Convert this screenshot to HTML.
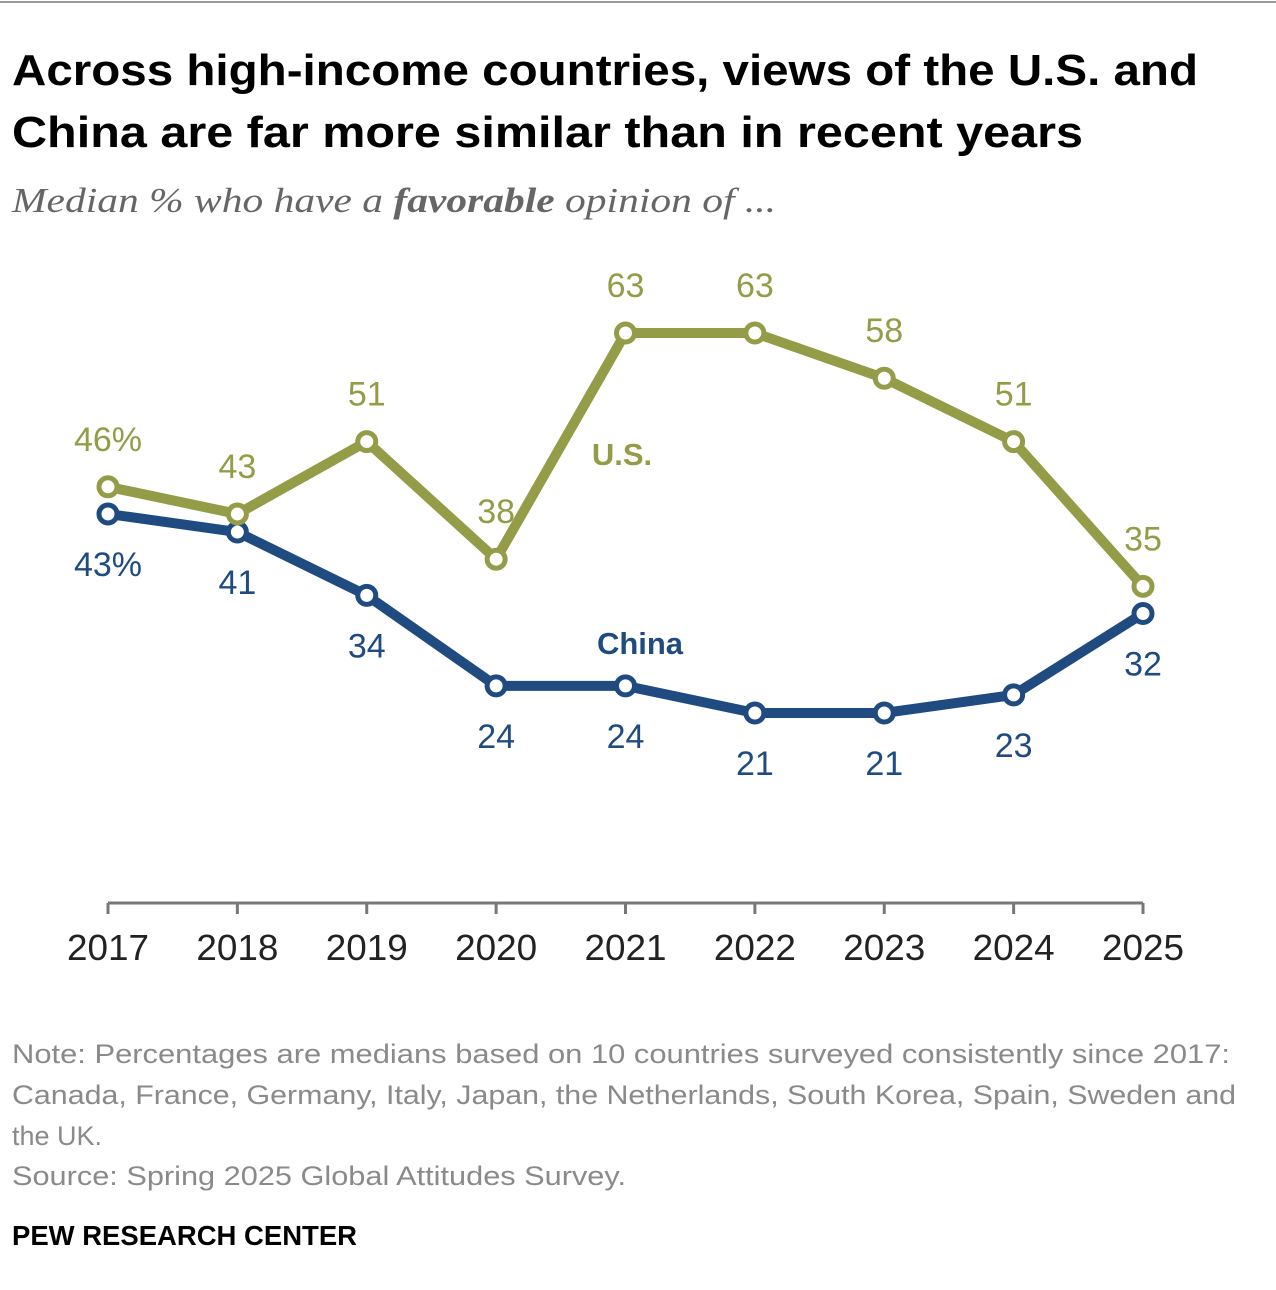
<!DOCTYPE html>
<html><head><meta charset="utf-8"><style>
html,body{margin:0;padding:0;background:#fff;}
svg{display:block;}
</style></head><body>
<svg id="chart" width="1276" height="1290" viewBox="0 0 1276 1290" xmlns="http://www.w3.org/2000/svg">
<line x1="0" y1="2" x2="1276" y2="2" stroke="#999" stroke-width="2"/>
<g font-family="Liberation Sans, sans-serif" font-weight="bold" font-size="44" fill="#000">
<text x="12" y="85" textLength="1186" lengthAdjust="spacingAndGlyphs">Across high-income countries, views of the U.S. and</text>
<text x="12" y="147" textLength="1071" lengthAdjust="spacingAndGlyphs">China are far more similar than in recent years</text>
</g>
<text x="12" y="212" font-family="Liberation Serif, serif" font-style="italic" font-size="35" fill="#666" textLength="764" lengthAdjust="spacingAndGlyphs">Median % who have a <tspan font-weight="bold">favorable</tspan> opinion of ...</text>
<g id="axis"></g>
<g id="series"></g>
<g font-family="Liberation Sans, sans-serif" font-size="27" fill="#8a8a8a">
<text x="12" y="1063" textLength="1218" lengthAdjust="spacingAndGlyphs">Note: Percentages are medians based on 10 countries surveyed consistently since 2017:</text>
<text x="12" y="1104" textLength="1224" lengthAdjust="spacingAndGlyphs">Canada, France, Germany, Italy, Japan, the Netherlands, South Korea, Spain, Sweden and</text>
<text x="12" y="1145">the UK.</text>
<text x="12" y="1185" textLength="614" lengthAdjust="spacingAndGlyphs">Source: Spring 2025 Global Attitudes Survey.</text>
</g>
<text x="12" y="1245" font-family="Liberation Sans, sans-serif" font-weight="bold" font-size="28" fill="#000" textLength="345" lengthAdjust="spacingAndGlyphs">PEW RESEARCH CENTER</text>
</svg>
<script>
const years = ['2017','2018','2019','2020','2021','2022','2023','2024','2025'];
const usValues = [46,43,51,38,63,63,58,51,35];
const chinaValues = [43,41,34,24,24,21,21,23,32];
const usLabels = ['46%','43','51','38','63','63','58','51','35'];
const chinaLabels = ['43%','41','34','24','24','21','21','23','32'];

const NS='http://www.w3.org/2000/svg';
const x = i => 108 + i*(1143-108)/(years.length-1);
const y = v => 713 - (v-21)*(380/42);
function mk(tag, attrs, parent){const e=document.createElementNS(NS,tag);for(const k in attrs)e.setAttribute(k,attrs[k]);parent.appendChild(e);return e;}

const axis=document.getElementById('axis');
const base=mk('line',{x1:x(0),x2:x(years.length-1),y1:903,y2:903,stroke:'#777','stroke-width':3},axis);


years.forEach((yr,i)=>{
  const t=mk('line',{x1:x(i),x2:x(i),y1:903,y2:914,stroke:'#777','stroke-width':3},axis);
  
  
  const l=mk('text',{x:x(i),y:960,'text-anchor':'middle','font-family':'Liberation Sans, sans-serif','font-size':36,fill:'#222',textLength:82,lengthAdjust:'spacingAndGlyphs'},axis);
  l.textContent=yr;
  
  
});

const series=document.getElementById('series');
function draw(vals,labels,color,name,off){
  const g=mk('g',{},series);
  
  
  const p=mk('polyline',{points:vals.map((v,i)=>x(i)+','+y(v)).join(' '),fill:'none',stroke:color,'stroke-width':10,'stroke-linejoin':'round'},g);
  
  
  vals.forEach((v,i)=>{
    const c=mk('circle',{cx:x(i),cy:y(v),r:9,fill:'#fff',stroke:color,'stroke-width':5},g);
    
    
    const t=mk('text',{x:x(i),y:y(v)+off,'text-anchor':'middle','dominant-baseline':'central','font-family':'Liberation Sans, sans-serif','font-size':34,fill:color},g);
    t.textContent=labels[i];
    
    
  });
}
draw(chinaValues,chinaLabels,'#1f4b80','china',51);
draw(usValues,usLabels,'#949c48','us',-47);

const us=mk('text',{x:622,y:465,'text-anchor':'middle','font-family':'Liberation Sans, sans-serif','font-weight':'bold','font-size':31,fill:'#949c48'},series);
us.textContent='U.S.';


const ch=mk('text',{x:640,y:654,'text-anchor':'middle','font-family':'Liberation Sans, sans-serif','font-weight':'bold','font-size':31,fill:'#1f4b80'},series);
ch.textContent='China';


</script>
</body></html>
